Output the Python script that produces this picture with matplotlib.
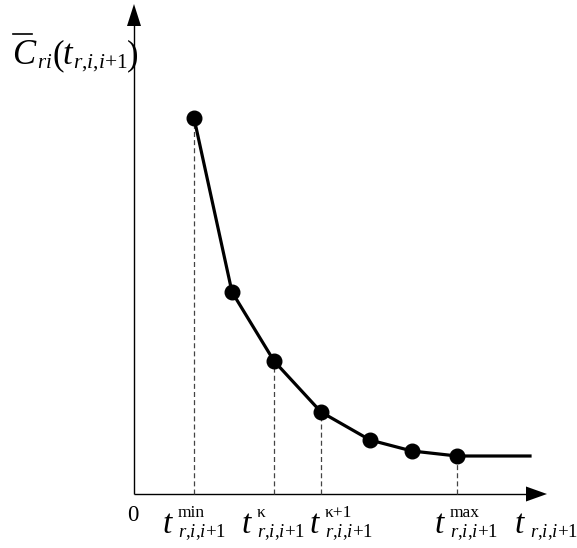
import matplotlib
matplotlib.use("Agg")
import matplotlib.pyplot as plt
from matplotlib.patches import Polygon

plt.rcParams["font.family"] = ["Liberation Serif", "DejaVu Serif"]
plt.rcParams["mathtext.fontset"] = "custom"
plt.rcParams["mathtext.rm"] = "Liberation Serif"
plt.rcParams["mathtext.it"] = "Liberation Serif:italic"

# Cost curve: time values and mean cost values
t_values = [60, 98, 140, 187, 236, 278, 323]
cost_values = [376, 202, 133, 82, 54, 43, 38]
t_tail = 396  # flat continuation after the last point

# Marked times, their costs and their superscript labels
marked_t = [60, 140, 187, 323]
marked_cost = [376, 133, 82, 38]
tick_sups = ["min", "κ", "κ+1", "max"]
tick_label_left = [29, 108, 176, 301]
axis_label_left = 381

SUB = r"$r{,}i{,}i{+}1$"

W, H, DPI = 577, 548, 100
fig = plt.figure(figsize=(W / DPI, H / DPI), dpi=DPI)
ax = fig.add_axes([0, 0, 1, 1])
ox, oy = 134, 494
ax.set_xlim(-ox, W - ox)
ax.set_ylim(oy - H, oy)
ax.axis("off")

# Axes with arrowheads
x_end, y_end = 413, 490
ax.plot([0, x_end - 18], [0, 0], color="black", lw=1.0, solid_capstyle="butt")
ax.plot([0, 0], [0, y_end - 20], color="black", lw=1.0, solid_capstyle="butt")
ax.add_patch(Polygon([[x_end, 0], [x_end - 21, 7.5], [x_end - 21, -7.5]],
                     closed=True, color="black", lw=0))
ax.add_patch(Polygon([[0, y_end], [-7, y_end - 22], [7, y_end - 22]],
                     closed=True, color="black", lw=0))

# Dashed drop lines
for tx, cy in zip(marked_t, marked_cost):
    ax.plot([tx, tx], [0, cy], color="#444444", lw=0.9, ls=(0, (4, 2.5)))

# Curve
ax.plot(t_values + [t_tail], cost_values + [cost_values[-1]],
        color="black", lw=2.3, solid_joinstyle="round")
ax.plot(t_values, cost_values, "o", color="black", markersize=10.5)


def txt(x, y, s, size, italic=False):
    ax.text(x, y, s, fontsize=size, ha="left", va="baseline",
            fontstyle="italic" if italic else "normal")


# Origin label
ax.text(-1.5, -27, "0", fontsize=16.5, ha="center", va="baseline")

# Time labels under the axis
for sup, lx in zip(tick_sups, tick_label_left):
    txt(lx, -39, "t", 24, italic=True)
    txt(lx + 15, -23, sup, 12.5)
    txt(lx + 15, -43, SUB, 13.5)
txt(axis_label_left, -39, "t", 24, italic=True)
txt(axis_label_left + 15, -43, SUB, 13.5)

# Vertical axis label: mean cost as a function of time
txt(-122, 430, "C", 25, italic=True)
ax.plot([-121, -102], [460, 460], color="black", lw=1.2)
txt(-97, 426, r"$ri$", 15)
txt(-82, 430, "(", 25)
txt(-72, 430, "t", 25, italic=True)
txt(-61, 426, SUB, 15.5)
txt(-7, 430, ")", 25)

fig.savefig("out.png", dpi=DPI)
